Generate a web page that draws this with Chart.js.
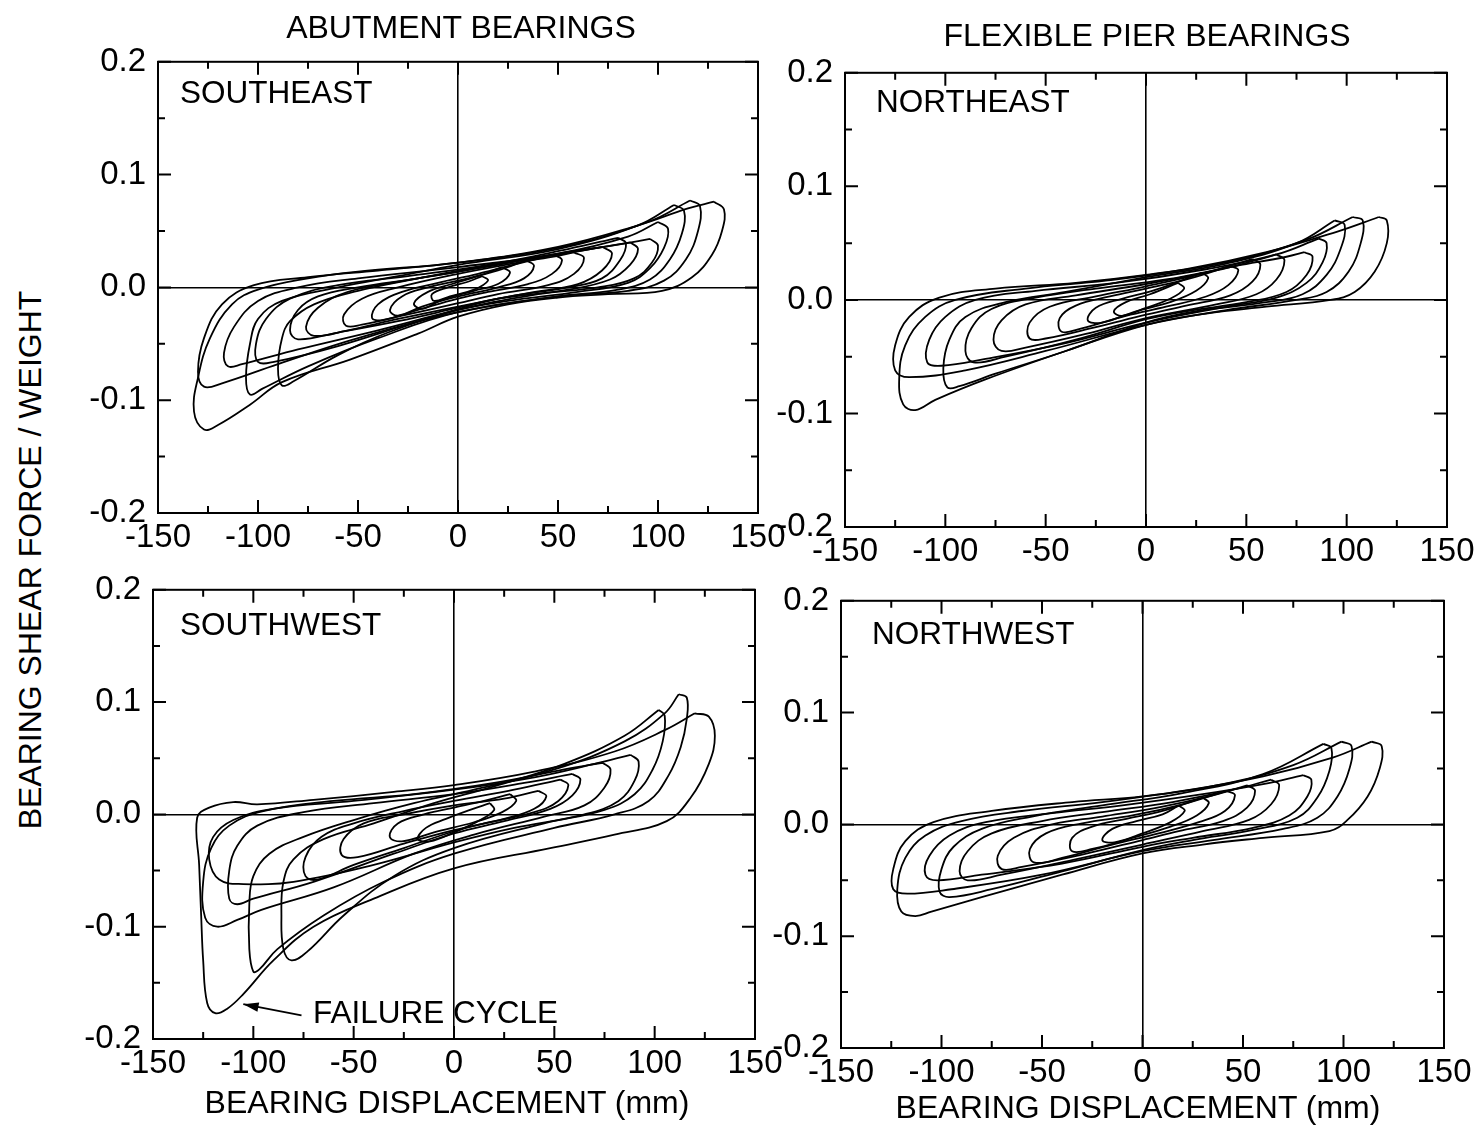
<!DOCTYPE html>
<html>
<head>
<meta charset="utf-8">
<script src="https://cdn.jsdelivr.net/npm/chart.js@4"></script>
<style>
  body { margin:0; background:#fff; }
  #page { position:relative; width:1479px; height:1127px; background:#fff; overflow:hidden; }
  canvas { position:absolute; }
  .t { position:absolute; font-family:"Liberation Sans", Arial, sans-serif; font-size:32px; color:#000; white-space:nowrap; line-height:1; }
  .p { font-size:31.5px; }
  .c { transform:translate(-50%,-50%); }
  .l { transform:translate(0,-50%); }
  .v { transform:translate(-50%,-50%) rotate(-90deg); }
</style>
</head>
<body>
<div id="page">
  <div class="t c" style="left:461px;top:27px;">ABUTMENT BEARINGS</div>
  <div class="t c" style="left:1147px;top:35px;">FLEXIBLE PIER BEARINGS</div>
  <div class="t v" style="left:30px;top:560px;">BEARING SHEAR FORCE / WEIGHT</div>
  <div class="t c" style="left:447px;top:1102px;">BEARING DISPLACEMENT (mm)</div>
  <div class="t c" style="left:1138px;top:1107px;">BEARING DISPLACEMENT (mm)</div>
  <div class="t p l" style="left:180px;top:93px;">SOUTHEAST</div>
  <div class="t p l" style="left:876px;top:102px;">NORTHEAST</div>
  <div class="t p l" style="left:180px;top:625px;">SOUTHWEST</div>
  <div class="t p l" style="left:872px;top:634px;">NORTHWEST</div>
  <div class="t p l" style="left:313px;top:1013px;">FAILURE CYCLE</div>
</div>
<script>
// hysteresis loops: [displacement mm, shear/weight]
const seLoops = [
  [[128,0.076],[133,0.069],[132,0.05],[127,0.029],[117,0.009],[102,-0.003],[75,-0.006],[50,-0.009],[25,-0.015],[0,-0.026],[-20,-0.041],[-54,-0.064],[-88,-0.084],[-104,-0.104],[-120,-0.122],[-127,-0.126],[-132,-0.11],[-130,-0.08],[-124,-0.045],[-113,-0.015],[-100,-0.002],[-75,0.008],[-50,0.014],[0,0.022],[50,0.036],[90,0.055],[115,0.07],[128,0.076]],
  [[116,0.077],[121,0.072],[120,0.05],[114,0.025],[103,0.006],[85,-0.003],[50,-0.008],[0,-0.022],[-50,-0.045],[-90,-0.068],[-118,-0.085],[-127,-0.088],[-130,-0.075],[-127,-0.045],[-118,-0.015],[-102,0.002],[-75,0.009],[-40,0.015],[0,0.022],[50,0.035],[95,0.058],[116,0.077]],
  [[108,0.073],[113,0.068],[112,0.048],[106,0.025],[96,0.007],[80,-0.002],[50,-0.008],[0,-0.022],[-40,-0.045],[-75,-0.07],[-98,-0.09],[-104,-0.095],[-106,-0.08],[-104,-0.05],[-100,-0.028],[-88,-0.012],[-60,0.0],[-30,0.01],[0,0.02],[50,0.034],[90,0.055],[108,0.073]],
  [[100,0.058],[105,0.052],[103,0.035],[96,0.017],[85,0.004],[60,-0.004],[25,-0.012],[0,-0.02],[-40,-0.038],[-80,-0.055],[-108,-0.068],[-115,-0.07],[-117,-0.058],[-112,-0.035],[-100,-0.012],[-80,0.0],[-50,0.008],[0,0.018],[50,0.03],[85,0.045],[100,0.058]],
  [[96,0.043],[100,0.037],[97,0.022],[88,0.008],[70,0.0],[40,-0.006],[0,-0.02],[-35,-0.04],[-60,-0.06],[-82,-0.083],[-88,-0.087],[-90,-0.072],[-88,-0.045],[-84,-0.03],[-72,-0.015],[-50,-0.003],[-20,0.008],[10,0.018],[50,0.03],[80,0.038],[96,0.043]],
  [[86,0.04],[90,0.034],[86,0.02],[76,0.007],[55,-0.002],[20,-0.01],[0,-0.018],[-30,-0.03],[-60,-0.04],[-80,-0.046],[-84,-0.038],[-80,-0.02],[-70,-0.008],[-50,0.0],[-20,0.008],[10,0.017],[45,0.028],[70,0.035],[86,0.04]],
  [[80,0.044],[84,0.039],[81,0.024],[72,0.008],[55,0.0],[20,-0.01],[-20,-0.03],[-60,-0.052],[-92,-0.066],[-100,-0.066],[-101,-0.05],[-96,-0.028],[-84,-0.01],[-60,0.002],[-25,0.01],[15,0.02],[55,0.034],[80,0.044]],
  [[72,0.036],[77,0.03],[72,0.015],[60,0.003],[35,-0.005],[0,-0.017],[-30,-0.028],[-55,-0.038],[-72,-0.043],[-76,-0.035],[-70,-0.018],[-55,-0.004],[-30,0.005],[0,0.014],[35,0.025],[60,0.032],[72,0.036]],
  [[58,0.031],[63,0.026],[58,0.012],[45,0.002],[20,-0.006],[0,-0.014],[-25,-0.024],[-48,-0.033],[-56,-0.034],[-57,-0.024],[-48,-0.01],[-30,0.0],[0,0.012],[30,0.022],[50,0.028],[58,0.031]],
  [[48,0.029],[52,0.024],[47,0.012],[35,0.003],[15,-0.004],[0,-0.01],[-20,-0.02],[-38,-0.029],[-43,-0.027],[-40,-0.015],[-28,-0.004],[-10,0.004],[10,0.012],[30,0.021],[48,0.029]],
  [[34,0.024],[38,0.019],[33,0.008],[20,0.0],[0,-0.008],[-18,-0.017],[-30,-0.025],[-34,-0.02],[-28,-0.008],[-15,0.0],[0,0.006],[20,0.015],[34,0.024]],
  [[22,0.018],[26,0.013],[20,0.003],[8,-0.003],[-8,-0.011],[-18,-0.019],[-22,-0.014],[-15,-0.004],[-3,0.003],[10,0.01],[22,0.018]],
  [[12,0.01],[15,0.006],[8,-0.002],[-4,-0.008],[-12,-0.012],[-13,-0.006],[-5,0.0],[5,0.005],[12,0.01]]
];
const neLoops = [
  [[116,0.073],[120,0.07],[120,0.05],[114,0.025],[104,0.007],[92,0.0],[60,-0.006],[30,-0.012],[0,-0.022],[-40,-0.045],[-80,-0.07],[-105,-0.088],[-115,-0.097],[-121,-0.092],[-123,-0.07],[-120,-0.04],[-110,-0.015],[-95,0.0],[-60,0.01],[-20,0.017],[20,0.027],[60,0.042],[95,0.06],[116,0.073]],
  [[103,0.073],[108,0.07],[107,0.05],[101,0.025],[90,0.007],[75,0.0],[40,-0.009],[0,-0.022],[-50,-0.045],[-90,-0.062],[-118,-0.068],[-125,-0.062],[-125,-0.04],[-118,-0.015],[-103,0.002],[-75,0.01],[-35,0.015],[0,0.022],[40,0.033],[80,0.053],[103,0.073]],
  [[94,0.07],[99,0.066],[97,0.045],[90,0.022],[78,0.005],[60,-0.002],[25,-0.01],[0,-0.02],[-40,-0.045],[-75,-0.065],[-93,-0.076],[-99,-0.077],[-101,-0.06],[-98,-0.035],[-90,-0.015],[-70,-0.002],[-40,0.007],[0,0.02],[40,0.032],[75,0.05],[94,0.07]],
  [[86,0.054],[90,0.05],[88,0.033],[80,0.015],[65,0.002],[40,-0.006],[0,-0.02],[-40,-0.038],[-80,-0.052],[-102,-0.058],[-109,-0.055],[-108,-0.035],[-100,-0.015],[-85,0.0],[-55,0.008],[-15,0.015],[30,0.027],[65,0.04],[86,0.054]],
  [[79,0.042],[83,0.038],[80,0.022],[70,0.007],[50,-0.002],[20,-0.01],[0,-0.017],[-35,-0.035],[-70,-0.05],[-86,-0.055],[-90,-0.045],[-87,-0.025],[-77,-0.008],[-55,0.002],[-25,0.01],[10,0.018],[45,0.03],[70,0.038],[79,0.042]],
  [[65,0.04],[69,0.035],[65,0.018],[55,0.005],[35,-0.004],[0,-0.016],[-30,-0.03],[-60,-0.042],[-72,-0.045],[-76,-0.035],[-72,-0.018],[-60,-0.004],[-35,0.004],[0,0.014],[35,0.026],[55,0.035],[65,0.04]],
  [[53,0.036],[57,0.031],[53,0.016],[42,0.004],[20,-0.005],[0,-0.013],[-25,-0.024],[-50,-0.034],[-58,-0.034],[-58,-0.02],[-48,-0.006],[-25,0.003],[0,0.012],[30,0.024],[53,0.036]],
  [[42,0.03],[46,0.026],[41,0.013],[30,0.003],[10,-0.006],[-10,-0.014],[-32,-0.025],[-42,-0.028],[-43,-0.016],[-35,-0.005],[-18,0.003],[0,0.01],[22,0.019],[42,0.03]],
  [[28,0.024],[31,0.019],[25,0.008],[12,-0.002],[-5,-0.01],[-22,-0.02],[-29,-0.018],[-25,-0.007],[-12,0.001],[5,0.009],[28,0.024]],
  [[16,0.015],[19,0.01],[12,0.001],[0,-0.007],[-12,-0.014],[-16,-0.01],[-10,-0.002],[2,0.005],[16,0.015]]
];
const swLoops = [
  [[120,0.09],[127,0.087],[130,0.07],[127,0.045],[118,0.015],[106,-0.006],[80,-0.018],[48,-0.03],[0,-0.048],[-40,-0.075],[-70,-0.1],[-90,-0.13],[-105,-0.16],[-113,-0.173],[-119,-0.177],[-123,-0.168],[-125,-0.13],[-126,-0.09],[-127,-0.045],[-128,-0.003],[-122,0.006],[-110,0.011],[-98,0.009],[-70,0.013],[-30,0.02],[0,0.026],[40,0.038],[80,0.056],[105,0.075],[120,0.09]],
  [[112,0.107],[116,0.104],[116,0.085],[113,0.06],[107,0.035],[97,0.012],[80,0.0],[50,-0.012],[0,-0.035],[-35,-0.06],[-65,-0.09],[-88,-0.12],[-97,-0.138],[-100,-0.14],[-102,-0.12],[-102,-0.08],[-100,-0.055],[-92,-0.035],[-75,-0.02],[-50,-0.005],[-20,0.01],[10,0.022],[50,0.04],[85,0.065],[105,0.09],[112,0.107]],
  [[102,0.093],[105,0.088],[104,0.065],[99,0.04],[90,0.018],[75,0.004],[45,-0.008],[0,-0.03],[-30,-0.055],[-55,-0.09],[-73,-0.122],[-81,-0.13],[-85,-0.12],[-86,-0.09],[-85,-0.06],[-80,-0.04],[-65,-0.022],[-40,-0.008],[-10,0.01],[20,0.025],[55,0.045],[85,0.07],[102,0.093]],
  [[88,0.053],[92,0.047],[90,0.03],[82,0.012],[65,0.0],[30,-0.012],[0,-0.025],[-40,-0.045],[-80,-0.06],[-105,-0.062],[-117,-0.058],[-122,-0.04],[-120,-0.02],[-110,-0.005],[-90,0.005],[-50,0.012],[0,0.022],[40,0.033],[70,0.045],[88,0.053]],
  [[74,0.046],[78,0.04],[75,0.024],[65,0.008],[45,-0.002],[10,-0.018],[-20,-0.035],[-60,-0.065],[-96,-0.085],[-108,-0.094],[-118,-0.1],[-124,-0.092],[-125,-0.06],[-121,-0.03],[-112,-0.01],[-95,0.003],[-60,0.012],[-20,0.018],[20,0.028],[55,0.04],[74,0.046]],
  [[59,0.036],[63,0.031],[59,0.017],[48,0.005],[25,-0.006],[0,-0.017],[-30,-0.035],[-70,-0.06],[-100,-0.075],[-108,-0.08],[-112,-0.075],[-112,-0.05],[-108,-0.028],[-98,-0.01],[-75,0.002],[-40,0.01],[0,0.018],[35,0.028],[59,0.036]],
  [[53,0.031],[57,0.026],[52,0.012],[40,0.002],[15,-0.008],[0,-0.015],[-25,-0.03],[-50,-0.045],[-68,-0.058],[-74,-0.055],[-74,-0.038],[-66,-0.02],[-50,-0.008],[-25,0.003],[0,0.012],[30,0.022],[53,0.031]],
  [[42,0.021],[46,0.016],[40,0.005],[25,-0.004],[0,-0.014],[-25,-0.026],[-48,-0.038],[-56,-0.036],[-55,-0.022],[-45,-0.008],[-25,0.0],[0,0.008],[25,0.014],[42,0.021]],
  [[28,0.018],[31,0.012],[24,0.002],[10,-0.007],[-10,-0.016],[-26,-0.024],[-32,-0.02],[-28,-0.008],[-15,0.0],[0,0.006],[15,0.012],[28,0.018]],
  [[18,0.01],[20,0.004],[12,-0.006],[0,-0.016],[-12,-0.024],[-18,-0.022],[-14,-0.012],[-4,-0.004],[8,0.004],[18,0.01]]
];
const nwLoops = [
  [[114,0.074],[119,0.07],[118,0.05],[112,0.025],[102,0.004],[93,-0.006],[60,-0.012],[30,-0.018],[0,-0.026],[-40,-0.045],[-80,-0.065],[-105,-0.078],[-113,-0.082],[-120,-0.078],[-122,-0.058],[-118,-0.03],[-108,-0.01],[-90,0.003],[-60,0.012],[-20,0.02],[20,0.03],[60,0.043],[95,0.06],[114,0.074]],
  [[99,0.074],[104,0.07],[103,0.05],[97,0.025],[87,0.006],[70,-0.004],[35,-0.014],[0,-0.024],[-50,-0.045],[-95,-0.058],[-117,-0.062],[-124,-0.058],[-124,-0.04],[-118,-0.015],[-104,0.002],[-75,0.012],[-35,0.02],[0,0.025],[40,0.036],[75,0.053],[99,0.074]],
  [[90,0.072],[94,0.068],[93,0.048],[87,0.024],[77,0.006],[55,-0.005],[25,-0.014],[0,-0.023],[-40,-0.042],[-75,-0.058],[-96,-0.065],[-101,-0.06],[-100,-0.04],[-94,-0.02],[-80,-0.004],[-55,0.007],[-20,0.017],[20,0.028],[60,0.045],[90,0.072]],
  [[80,0.044],[84,0.04],[82,0.025],[73,0.008],[55,-0.003],[25,-0.012],[0,-0.02],[-40,-0.035],[-80,-0.045],[-102,-0.05],[-108,-0.045],[-106,-0.028],[-96,-0.01],[-78,0.002],[-45,0.01],[-10,0.017],[30,0.027],[60,0.036],[80,0.044]],
  [[64,0.04],[68,0.035],[64,0.018],[53,0.004],[30,-0.006],[0,-0.018],[-35,-0.032],[-70,-0.045],[-87,-0.05],[-91,-0.042],[-87,-0.024],[-75,-0.008],[-50,0.003],[-20,0.011],[15,0.02],[45,0.031],[64,0.04]],
  [[52,0.035],[56,0.03],[52,0.015],[40,0.003],[18,-0.006],[0,-0.014],[-30,-0.027],[-60,-0.038],[-70,-0.04],[-72,-0.028],[-64,-0.012],[-45,0.0],[-20,0.007],[10,0.016],[35,0.026],[52,0.035]],
  [[42,0.03],[46,0.026],[41,0.012],[28,0.002],[8,-0.008],[-15,-0.018],[-40,-0.03],[-54,-0.034],[-56,-0.022],[-48,-0.008],[-30,0.001],[-5,0.008],[20,0.018],[42,0.03]],
  [[30,0.024],[33,0.019],[27,0.008],[14,-0.002],[-5,-0.012],[-25,-0.022],[-35,-0.024],[-35,-0.012],[-25,-0.002],[-8,0.005],[10,0.012],[30,0.024]],
  [[18,0.017],[21,0.012],[14,0.002],[0,-0.008],[-14,-0.016],[-20,-0.014],[-15,-0.004],[-3,0.003],[10,0.009],[18,0.017]]
];
// arrow for the failure cycle label (mm, shear/weight)
const failArrow = [[-76,-0.179],[-105,-0.169]];

const xRange = [-150, 150];
const yRange = [-0.2, 0.2];
const xStep = 25;
const yStep = 0.05;

// plot-area boxes on the page: left, top, right, bottom
const panels = [
  {loops: seLoops, box: [158, 52, 758, 513]},
  {loops: neLoops, box: [845, 63, 1447, 527]},
  {loops: swLoops, box: [153, 580, 755, 1039], arrow: failArrow},
  {loops: nwLoops, box: [841, 591, 1444, 1048]}
];

const AXW = 80, AXH = 50, PT = 22, PR = 36;
const FONT = '"Liberation Sans", Arial, sans-serif';

function isMajorY(v) { return Math.abs(v * 10 - Math.round(v * 10)) < 1e-6; }

const frame = {
  id: 'frame',
  afterDatasetsDraw(chart) {
    const {ctx, chartArea: a, scales: {x, y}} = chart;
    ctx.save();
    ctx.strokeStyle = '#000';
    ctx.lineWidth = 2;
    ctx.strokeRect(a.left, a.top, a.right - a.left, a.bottom - a.top);
    ctx.beginPath();
    x.ticks.forEach(t => {
      const px = x.getPixelForValue(t.value);
      const L = (Math.round(t.value) % 50 === 0) ? 13 : 7;
      ctx.moveTo(px, a.bottom); ctx.lineTo(px, a.bottom - L);
      ctx.moveTo(px, a.top); ctx.lineTo(px, a.top + L);
    });
    y.ticks.forEach(t => {
      const py = y.getPixelForValue(t.value);
      const L = isMajorY(t.value) ? 13 : 7;
      ctx.moveTo(a.left, py); ctx.lineTo(a.left + L, py);
      ctx.moveTo(a.right, py); ctx.lineTo(a.right - L, py);
    });
    ctx.stroke();
    const arr = chart.options.plugins.frame && chart.options.plugins.frame.arrow;
    if (arr) {
      const x0 = x.getPixelForValue(arr[0][0]), y0 = y.getPixelForValue(arr[0][1]);
      const x1 = x.getPixelForValue(arr[1][0]), y1 = y.getPixelForValue(arr[1][1]);
      ctx.lineWidth = 1.8;
      ctx.beginPath(); ctx.moveTo(x0, y0); ctx.lineTo(x1, y1); ctx.stroke();
      const ang = Math.atan2(y1 - y0, x1 - x0);
      ctx.beginPath();
      ctx.moveTo(x1, y1);
      ctx.lineTo(x1 - 16 * Math.cos(ang - 0.3), y1 - 16 * Math.sin(ang - 0.3));
      ctx.lineTo(x1 - 16 * Math.cos(ang + 0.3), y1 - 16 * Math.sin(ang + 0.3));
      ctx.closePath();
      ctx.fillStyle = '#000';
      ctx.fill();
    }
    ctx.restore();
  }
};

const page = document.getElementById('page');

panels.forEach(p => {
  const [l, t, r, b] = p.box;
  const W = (r - l) + AXW + PR, H = (b - t) + PT + AXH;
  const cv = document.createElement('canvas');
  cv.width = W; cv.height = H;
  cv.style.left = (l - AXW) + 'px';
  cv.style.top = (t - PT) + 'px';
  cv.style.width = W + 'px'; cv.style.height = H + 'px';
  page.insertBefore(cv, page.firstChild);

  const datasets = p.loops.map(loop => ({
    data: loop.map(pt => ({x: pt[0], y: pt[1]})),
    showLine: true,
    borderColor: '#000',
    borderWidth: 1.8,
    pointRadius: 0,
    tension: 0.4,
    fill: false
  }));

  new Chart(cv.getContext('2d'), {
    type: 'scatter',
    data: {datasets},
    options: {
      responsive: false,
      animation: false,
      devicePixelRatio: 1,
      layout: {padding: {left: 0, top: PT, right: PR, bottom: 0}},
      plugins: {legend: {display: false}, tooltip: {enabled: false}, frame: {arrow: p.arrow || null}},
      scales: {
        x: {
          type: 'linear', min: xRange[0], max: xRange[1],
          afterFit(s) { s.height = AXH; },
          border: {display: false},
          grid: {drawTicks: false, lineWidth: 1.6, color: c => Math.abs(c.tick.value) < 1e-9 ? '#000' : 'rgba(0,0,0,0)'},
          ticks: {
            stepSize: xStep, autoSkip: false, maxRotation: 0, padding: 5,
            color: '#000', font: {family: FONT, size: 33},
            callback: v => (Math.round(v) % 50 === 0) ? String(v) : ''
          }
        },
        y: {
          type: 'linear', min: yRange[0], max: yRange[1],
          afterFit(s) { s.width = AXW; },
          border: {display: false},
          grid: {drawTicks: false, lineWidth: 1.6, color: c => Math.abs(c.tick.value) < 1e-9 ? '#000' : 'rgba(0,0,0,0)'},
          ticks: {
            stepSize: yStep, autoSkip: false, padding: 12,
            color: '#000', font: {family: FONT, size: 33},
            callback: v => isMajorY(v) ? (Math.abs(v) < 1e-9 ? '0.0' : v.toFixed(1)) : ''
          }
        }
      }
    },
    plugins: [frame]
  });
});
</script>
</body>
</html>
